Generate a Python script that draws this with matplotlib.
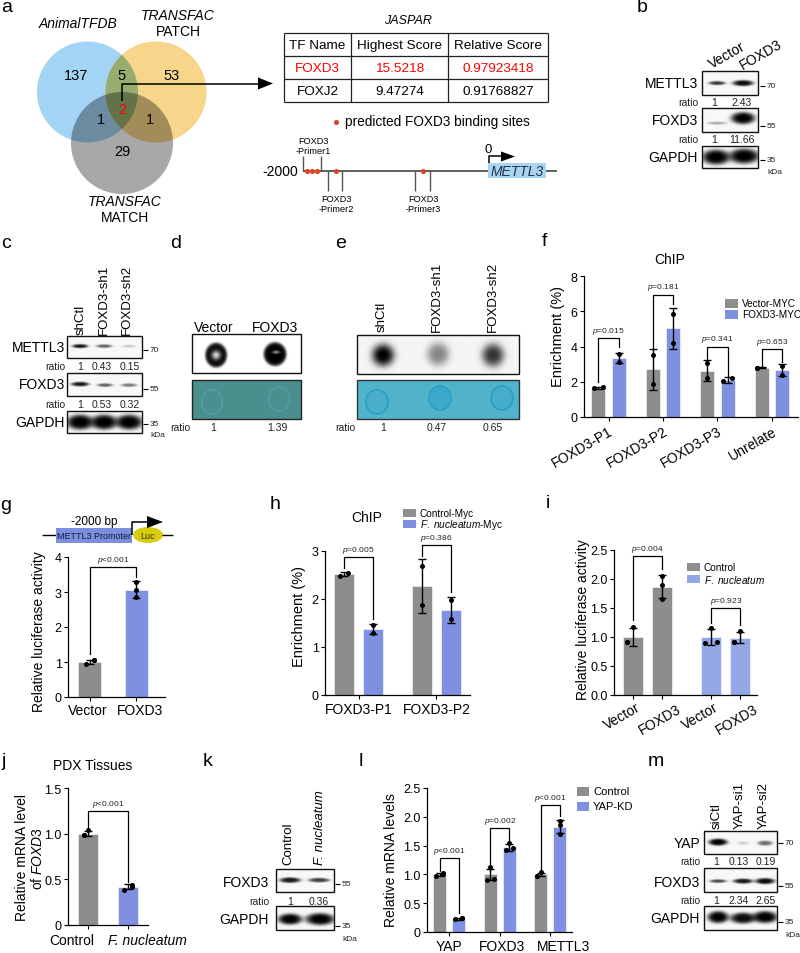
#!/usr/bin/env python

"""
FOXD3 / METTL3 multi panel figure (a-m)
"""

import numpy as np
from matplotlib import pyplot as plt
from matplotlib.patches import Circle, Ellipse, Polygon, Rectangle

plt.rcParams['font.family'] = 'Liberation Sans'
plt.rcParams['mathtext.fontset'] = 'custom'
plt.rcParams['mathtext.rm'] = 'Liberation Sans'
plt.rcParams['mathtext.it'] = 'Liberation Sans:italic'
plt.rcParams['mathtext.default'] = 'regular'

W, H = 800, 954
GREY = '#8d8d8b'
BLUE = '#7f90e0'
LIGHT = '#93a6e6'

# panel a
venn_counts = ['137', '5', '53', '2', '1', '1', '29']
table_rows = [['TF Name', 'Highest Score', 'Relative Score'],
              ['FOXD3', '15.5218', '0.97923418'],
              ['FOXJ2', '9.47274', '0.91768827']]

# panel f
f_names = ['FOXD3-P1', 'FOXD3-P2', 'FOXD3-P3', 'Unrelate']
f_ctrl = [1.65, 2.7, 2.62, 2.8]
f_ctrl_err = [0.05, 1.15, 0.6, 0.02]
f_ctrl_pts = [[1.62, 1.7], [1.9, 3.5], [2.2, 3.05], [2.8, 2.8]]
f_trt = [3.35, 5.03, 2.1, 2.65]
f_trt_err = [0.3, 1.15, 0.15, 0.35]
f_trt_pts = [[3.1, 3.6], [4.2, 5.85], [2.05, 2.2], [2.4, 2.9]]
f_p = ['0.015', '0.181', '0.341', '0.653']

# panel g
g_names = ['Vector', 'FOXD3']
g_vals = [1.0, 3.07]
g_err = [0.07, 0.24]
g_pts = [[0.93, 1.05, 1.05], [2.85, 3.05, 3.3]]

# panel h
h_names = ['FOXD3-P1', 'FOXD3-P2']
h_ctrl = [2.52, 2.27]
h_ctrl_err = [0.05, 0.57]
h_ctrl_pts = [[2.48, 2.55], [1.87, 2.68]]
h_trt = [1.38, 1.78]
h_trt_err = [0.1, 0.27]
h_trt_pts = [[1.3, 1.45], [1.58, 1.98]]
h_p = ['0.005', '0.386']

# panel i
i_names = ['Vector', 'FOXD3', 'Vector', 'FOXD3']
i_ctrl = [1.0, 1.0]
i_ctrl_err = [0.15, 0.14]
i_ctrl_pts = [[0.92, 0.92, 1.17], [0.9, 0.92, 1.15]]
i_trt = [1.87, 0.99]
i_trt_err = [0.2, 0.1]
i_trt_pts = [[1.65, 1.9, 2.05], [0.92, 0.92, 1.1]]
i_p = ['0.004', '0.923']

# panel j
j_vals = [1.0, 0.42]
j_err = [0.03, 0.03]
j_pts = [[0.98, 0.98, 1.04], [0.38, 0.42, 0.44]]

# panel l
l_names = ['YAP', 'FOXD3', 'METTL3']
l_ctrl = [1.0, 1.0, 1.0]
l_ctrl_err = [0.02, 0.1, 0.03]
l_ctrl_pts = [[0.98, 1.0, 1.02], [0.9, 0.92, 1.12], [0.98, 0.98, 1.05]]
l_trt = [0.23, 1.47, 1.83]
l_trt_err = [0.02, 0.06, 0.11]
l_trt_pts = [[0.22, 0.24, 0.24], [1.42, 1.45, 1.55], [1.7, 1.85, 1.93]]
l_p = ['<0.001', '=0.002', '<0.001']

fig = plt.figure(figsize=(W/100., H/100.), dpi=100)
bg = fig.add_axes([0, 0, 1, 1])
bg.set_xlim(0, W)
bg.set_ylim(H, 0)
bg.axis('off')


def T(x, y, s, size=10, ha='center', va='center', **kw):
    bg.text(x, y, s, fontsize=size, ha=ha, va=va, **kw)


def L(xs, ys, lw=1., color='k', **kw):
    bg.plot(xs, ys, color=color, lw=lw, solid_capstyle='butt', **kw)


def blot(x0, y0, x1, y1, bands, holes=(), floor=0.97, frame=1., sharp=2.):
    # bands are (x, y, width, height, darkness) in figure pixels
    X, Y = np.meshgrid(np.arange(x0, x1, 0.34), np.arange(y0, y1, 0.34))
    img = np.full(X.shape, floor)
    for bx, by, bw, bh, dark in bands:
        r = ((X-bx)/(bw/2.))**2 + ((Y-by)/(bh/2.))**2
        img *= 1 - dark*np.exp(-r**sharp)
    for bx, by, bw, bh, light in holes:
        r = ((X-bx)/(bw/2.))**2 + ((Y-by)/(bh/2.))**2
        img = img + light*np.exp(-r)
    bg.imshow(np.clip(img, 0, 1), cmap='gray', vmin=0, vmax=1, aspect='auto',
              extent=(x0, x1, y1, y0), interpolation='bilinear', zorder=1)
    bg.add_patch(Rectangle((x0, y0), x1-x0, y1-y0, fc='none', ec='#111111', lw=frame, zorder=2))


def marker(x, y, s):
    L([x, x+5], [y, y], lw=0.8)
    T(x+7, y, s, size=6, ha='left', color='#222222')


def panel_axes(x0, ytop, x1, ybot, xlim, ylim, ticks, labels):
    ax = fig.add_axes([x0/W, 1-ybot/H, (x1-x0)/W, (ybot-ytop)/H])
    ax.patch.set_alpha(0)
    ax.set_xlim(*xlim)
    ax.set_ylim(*ylim)
    ax.spines['top'].set_visible(False)
    ax.spines['right'].set_visible(False)
    ax.spines['left'].set_linewidth(0.9)
    ax.spines['bottom'].set_linewidth(0.9)
    ax.tick_params(axis='y', labelsize=9, length=3, width=0.8, pad=1.5)
    ax.tick_params(axis='x', labelsize=10, length=3, width=0.8, pad=2)
    ax.set_yticks(ticks)
    ax.set_yticklabels(labels)
    return ax


def swarm(x, pts, gap, step):
    out = []
    pts = sorted(pts)
    for k, p in enumerate(pts):
        close = [q for j, q in enumerate(pts) if j != k and abs(q-p) < gap]
        if close:
            side = -1 if p == min([p]+close) else 1
            out.append(x + side*step)
        else:
            out.append(x)
    return out, pts


def bars(ax, x, vals, errs, pts, color, width, gap, step):
    ax.bar(x, vals, width=width, color=color, edgecolor='white', linewidth=0.4, zorder=1)
    ax.errorbar(x, vals, yerr=errs, fmt='none', ecolor='k', elinewidth=1.,
                capsize=3., capthick=1., zorder=3, clip_on=False)
    for xi, p in zip(x, pts):
        xs, ys = swarm(xi, p, gap, step)
        ax.scatter(xs, ys, s=13, color='k', zorder=4, clip_on=False, linewidths=0)


def bracket(ax, x1, x2, y1, y2, top, text):
    ax.plot([x1, x1, x2, x2], [y1, top, top, y2], color='k', lw=0.9, clip_on=False, zorder=5)
    ax.annotate(text, ((x1+x2)/2., top), xytext=(0, 1.5), textcoords='offset points',
                ha='center', va='bottom', fontsize=6, color='#222222', annotation_clip=False)


def legend_box(x, y, color, text, size=7.2, w=13, h=8.5, **kw):
    bg.add_patch(Rectangle((x, y), w, h, fc=color, ec='none', zorder=3))
    T(x+w+4, y+h/2., text, size=size, ha='left', **kw)


# panel letters
for s, x, y in [('a', 7, 8), ('b', 642, 7), ('c', 6, 243), ('d', 176, 243), ('e', 341, 243),
                ('f', 544, 241), ('g', 6, 505), ('h', 275, 505), ('i', 548, 504),
                ('j', 4, 762), ('k', 208, 762), ('l', 361, 762), ('m', 656, 762)]:
    T(x, y, s, size=14)

# a: venn
A = Circle((87.5, 93), 50.5, fc='#a3d3f5', ec='none', zorder=1)
B = Circle((156, 93), 50.5, fc='#f7d58a', ec='none', zorder=1.1)
AB = Circle((87.5, 93), 50.5, fc='#97ad70', ec='none', zorder=1.2)
C = Circle((122, 144), 51, fc='k', alpha=0.34, ec='none', zorder=1.3)
for c in (A, B, AB, C):
    bg.add_patch(c)
AB.set_clip_path(B)
venn_xy = [(76, 76), (122, 76), (172, 76), (122, 110), (101, 120), (150, 120), (122, 152)]
for (x, y), s in zip(venn_xy, venn_counts):
    T(x, y, s, size=10.5, color='red' if s == '2' else 'k', zorder=6)
T(78, 24, 'AnimalTFDB', size=10, style='italic')
T(178, 16, 'TRANSFAC', size=10, style='italic')
T(178, 32, 'PATCH', size=10)
T(125, 202, 'TRANSFAC', size=10, style='italic')
T(125, 218, 'MATCH', size=10)
L([122, 122, 260], [102, 84.5, 84.5], lw=1.1, zorder=5)
bg.add_patch(Polygon([(258, 78.5), (273, 84.5), (258, 90.5)], fc='k', ec='none', zorder=5))

# a: table
col_x = [284, 351, 448, 548]
row_y = [34, 57, 80, 103]
T(408, 21, 'JASPAR', size=9, style='italic')
for x in col_x:
    L([x, x], [row_y[0], row_y[-1]], lw=0.9, color='#222222')
for y in row_y:
    L([col_x[0], col_x[-1]], [y, y], lw=0.9, color='#222222')
for r, row in enumerate(table_rows):
    for c, s in enumerate(row):
        T((col_x[c]+col_x[c+1])/2., (row_y[r]+row_y[r+1])/2.+0.5, s, size=9.7,
          color='red' if r == 1 else 'k')

# a: promoter map
RED = '#d9472b'
bg.scatter([336], [123], s=14, color=RED, linewidths=0, zorder=4)
T(345, 122, 'predicted FOXD3 binding sites', size=9.8, ha='left')
T(262, 172, '-2000', size=10, ha='left')
L([303, 557], [172, 172], lw=1.1, color='#333333')
bg.scatter([307, 312, 317, 336, 423], [172]*5, s=14, color=RED, linewidths=0, zorder=4)
for x in (303, 321):
    L([x, x], [157, 172], color='#555555')
for x in (328, 342, 415, 430):
    L([x, x], [172, 192], color='#555555')
for x, y, n in [(313, 141, 1), (336, 199, 2), (423, 199, 3)]:
    T(x, y, 'FOXD3', size=6.6)
    T(x, y+11, '-Primer%d' % n, size=6.6)
bg.add_patch(Rectangle((488, 164), 58, 15, fc='#a9d5f5', ec='none', zorder=2))
T(517, 172, 'METTL3', size=10, style='italic', color='#223344', zorder=3)
T(488, 150, '0', size=9.5)
L([489, 489, 503], [164, 157, 157], lw=1.1)
bg.add_patch(Polygon([(501, 152.5), (515, 157.5), (501, 162.5)], fc='k', ec='none'))

# b: western
blot(702, 72, 758, 96, [(717, 84, 17, 4, .75), (743, 84, 21, 6, .95)])
blot(702, 109, 758, 133, [(717, 124, 20, 3, .3), (743, 119, 24, 12, 1.)])
blot(702, 147, 758, 169, [(716, 158, 28, 15, 1.), (744, 157, 30, 15, 1.)])
for s, y in [('METTL3', 84), ('FOXD3', 121), ('GAPDH', 158)]:
    T(698, y, s, size=10, ha='right')
T(698, 103, 'ratio', size=7.5, ha='right', color='#222222')
T(698, 140, 'ratio', size=7.5, ha='right', color='#222222')
for x, s in [(714, '1'), (742, '2.43')]:
    T(x, 103, s, size=7.5, color='#222222')
for x, s in [(714, '1'), (742, '11.66')]:
    T(x, 140, s, size=7.5, color='#222222')
T(713, 72, 'Vector', size=10, ha='left', va='bottom', rotation=30, rotation_mode='anchor')
T(744, 73, 'FOXD3', size=10, ha='left', va='bottom', rotation=30, rotation_mode='anchor')
marker(760, 87, '70')
marker(760, 127, '55')
marker(760, 161, '35')
T(767, 173, 'kDa', size=6, ha='left', color='#222222')

# c: western
blot(67, 337, 142, 359, [(80, 347, 16, 4, .9), (104, 347, 16, 3.5, .6), (129, 347, 14, 2.5, .2)])
blot(67, 374, 142, 397, [(80, 385, 18, 4.5, .9), (105, 386, 16, 3.5, .6), (129, 386, 16, 3.5, .5)])
blot(67, 412, 142, 434, [(80, 423, 27, 15, 1.), (104, 423, 27, 15, 1.), (129, 423, 27, 15, 1.)])
for s, y in [('METTL3', 348), ('FOXD3', 385), ('GAPDH', 423)]:
    T(65, y, s, size=10, ha='right')
for y, vals in [(367, ['1', '0.43', '0.15']), (405, ['1', '0.53', '0.32'])]:
    T(65, y, 'ratio', size=7.5, ha='right', color='#222222')
    for x, s in zip((80, 102, 130), vals):
        T(x, y, s, size=7.5, color='#222222')
for x, s in [(81, 'shCtl'), (104, 'FOXD3-sh1'), (127, 'FOXD3-sh2')]:
    T(x, 335, s, size=9.5, va='bottom', rotation=90)
marker(143, 351, '70')
marker(143, 390, '55')
marker(143, 425, '35')
T(150, 436, 'kDa', size=6, ha='left', color='#222222')

# d: dot blot
blot(192, 335, 301, 374, [(216, 356, 22, 25, 1.), (275, 355, 23, 24, 1.)],
     holes=[(216, 356, 9, 9, .85), (276, 353, 7, 3, .6)], floor=1., sharp=5.)
bg.add_patch(Rectangle((192, 381), 109, 39, fc='#4a8f8e', ec='#222222', lw=1., zorder=1))
for x, y in [(212, 403), (279, 400)]:
    bg.add_patch(Ellipse((x, y), 21, 24, fc='none', ec='#4f9ca3', lw=1.2, zorder=2))
T(214, 328, 'Vector', size=10)
T(275, 328, 'FOXD3', size=10)
T(180, 428, 'ratio', size=7.5, color='#222222')
T(213, 428, '1', size=7.5, color='#222222')
T(277, 428, '1.39', size=7.5, color='#222222')

# e: dot blot
blot(357, 336, 519, 375, [(383, 356, 22, 22, 1.), (438, 355, 22, 23, .45), (493, 356, 22, 23, .78)],
     floor=.96, sharp=1.5)
bg.add_patch(Rectangle((357, 381), 162, 39, fc='#50b3ca', ec='#333333', lw=1., zorder=1))
for x, y, fc in [(377, 403, '#4aaeca'), (440, 399, '#3aa9cb'), (502, 399, '#47adca')]:
    bg.add_patch(Ellipse((x, y), 22, 24, fc=fc, ec='#2a9fc2', lw=1.2, zorder=2))
for x, s in [(382, 'shCtl'), (437, 'FOXD3-sh1'), (493, 'FOXD3-sh2')]:
    T(x, 332, s, size=9.5, va='bottom', rotation=90)
T(345, 428, 'ratio', size=7.5, color='#222222')
for x, s in [(383, '1'), (437, '0.47'), (493, '0.65')]:
    T(x, 428, s, size=7.5, color='#222222')

# f: ChIP bars
ax = panel_axes(584, 277, 798, 418, (-0.45, 3.48), (0, 8), [0, 2, 4, 6, 8], ['0', '2', '4', '6', '8'])
pos = np.arange(4)
bars(ax, pos-0.188, f_ctrl, f_ctrl_err, f_ctrl_pts, GREY, 0.257, 0.3, 0.08)
bars(ax, pos+0.188, f_trt, f_trt_err, f_trt_pts, BLUE, 0.257, 0.3, 0.08)
ax.set_xticks(pos)
ax.set_xticklabels(f_names, rotation=30, ha='right', rotation_mode='anchor')
for i, (y1, y2, top) in enumerate([(2.0, 4.0, 4.46), (3.9, 6.4, 6.95), (3.3, 2.3, 4.0), (2.9, 3.1, 3.84)]):
    bracket(ax, i-0.188, i+0.188, y1, y2, top, '$\\mathit{p}$=' + f_p[i])
T(558, 337, 'Enrichment (%)', size=10.5, rotation=90)
T(670, 260, 'ChIP', size=10)
legend_box(725, 300, GREY, 'Vector-MYC')
legend_box(725, 311, BLUE, 'FOXD3-MYC')

# g: luciferase
L([42, 56], [536, 536], lw=1.)
bg.add_patch(Rectangle((56, 529), 76, 15, fc='#7b8fdc', ec='none', zorder=2))
T(94, 536.5, 'METTL3 Promoter', size=6.5, color='#141d40', zorder=3)
bg.add_patch(Ellipse((148, 536), 30, 16, fc='#d8cc10', ec='none', zorder=2))
T(148, 536.5, 'Luc', size=6.5, color='#3a3a10', zorder=3)
L([162, 173], [536, 536], lw=1.)
L([132, 132, 148], [536, 523, 523], lw=1.1)
bg.add_patch(Polygon([(147, 517), (163, 523), (147, 529)], fc='k', ec='none', zorder=3))
T(94, 522, '-2000 bp', size=8.5)
ax = panel_axes(68, 558, 165, 698, (-0.478, 1.63), (0, 4), [0, 1, 2, 3, 4], ['0', '1', '2', '3', '4'])
bars(ax, [0, 1], g_vals, g_err, g_pts, [GREY, BLUE], 0.5, 0.15, 0.09)
ax.set_xticks([0, 1])
ax.set_xticklabels([])
T(88, 711, g_names[0])
T(140, 711, g_names[1])
bracket(ax, 0, 1, 1.22, 3.42, 3.71, '$\\mathit{p}$<0.001')
T(39, 632, 'Relative luciferase activity', size=10, rotation=90)

# h: ChIP bars
ax = panel_axes(325, 552, 470, 696, (-0.43, 1.43), (0, 3), [0, 1, 2, 3], ['0', '1', '2', '3'])
pos = np.arange(2)
bars(ax, pos-0.186, h_ctrl, h_ctrl_err, h_ctrl_pts, GREY, 0.256, 0.2, 0.05)
bars(ax, pos+0.186, h_trt, h_trt_err, h_trt_pts, BLUE, 0.256, 0.1, 0.05)
ax.set_xticks(pos)
ax.set_xticklabels(h_names)
bracket(ax, -0.186, 0.186, 2.65, 1.58, 2.87, '$\\mathit{p}$=' + h_p[0])
bracket(ax, 0.814, 1.186, 2.9, 2.15, 3.12, '$\\mathit{p}$=' + h_p[1])
T(299, 617, 'Enrichment (%)', size=10.5, rotation=90)
T(367, 518, 'ChIP', size=10)
legend_box(403, 510, GREY, 'Control-Myc', h=7.5)
legend_box(403, 521, BLUE, '$\\mathit{F.\\ nucleatum}$-Myc', h=7.5)

# i: luciferase
ax = panel_axes(614, 551, 757, 696, (-0.43, 1.40), (0, 2.5), [0, 0.5, 1, 1.5, 2, 2.5],
                ['0.0', '0.5', '1.0', '1.5', '2.0', '2.5'])
pos = np.arange(2)
bars(ax, pos-0.186, i_ctrl, i_ctrl_err, i_ctrl_pts, [GREY, LIGHT], 0.256, 0.08, 0.08)
bars(ax, pos+0.186, i_trt, i_trt_err, i_trt_pts, [GREY, LIGHT], 0.256, 0.08, 0.08)
ax.set_xticks([-0.186, 0.186, 0.814, 1.186])
ax.set_xticklabels([])
for x, y, s in zip((636, 676, 714, 753), (701, 702, 701, 702), i_names):
    T(x, y, s, ha='right', va='top', rotation=30, rotation_mode='anchor')
bracket(ax, -0.186, 0.186, 1.3, 2.17, 2.4, '$\\mathit{p}$=' + i_p[0])
bracket(ax, 0.814, 1.186, 1.25, 1.2, 1.5, '$\\mathit{p}$=' + i_p[1])
T(583, 620, 'Relative luciferase activity', size=10, rotation=90)
legend_box(687, 564, GREY, 'Control', h=7.5)
legend_box(687, 576, LIGHT, '$\\mathit{F.\\ nucleatum}$', h=7.5)

# j: PDX
ax = panel_axes(68, 789, 148, 926, (-0.5, 1.5), (0, 1.5), [0, 0.5, 1, 1.5], ['0', '0.5', '1.0', '1.5'])
bars(ax, [0, 1], j_vals, j_err, j_pts, [GREY, BLUE], 0.5, 0.05, 0.1)
ax.set_xticks([0, 1])
ax.set_xticklabels([])
T(72, 941, 'Control')
T(147, 941, 'F. nucleatum', style='italic')
bracket(ax, 0, 1, 1.05, 0.47, 1.25, '$\\mathit{p}$<0.001')
T(30, 858, 'Relative mRNA level\nof $\\mathit{FOXD3}$', size=10, rotation=90, linespacing=1.05)
T(93, 766, 'PDX Tissues', size=10)

# k: western
blot(276, 870, 334, 893, [(290, 881, 21, 5.5, .9), (319, 881, 21, 4.5, .75)])
blot(276, 907, 334, 931, [(290, 920, 24, 11, 1.), (320, 920, 29, 12, 1.)])
T(269, 883, 'FOXD3', size=10, ha='right')
T(269, 920, 'GAPDH', size=10, ha='right')
T(269, 902, 'ratio', size=7.5, ha='right', color='#222222')
T(290, 902, '1', size=7.5, color='#222222')
T(319, 902, '0.36', size=7.5, color='#222222')
T(288, 865, 'Control', size=9.5, va='bottom', rotation=90)
T(320, 865, 'F. nucleatum', size=9.5, va='bottom', rotation=90, style='italic')
marker(335, 885, '55')
marker(335, 927, '35')
T(342, 940, 'kDa', size=6, ha='left', color='#222222')

# l: YAP-KD
ax = panel_axes(427, 789, 572, 933, (-0.445, 2.43), (0, 2.5), [0, 0.5, 1, 1.5, 2, 2.5],
                ['0', '0.5', '1.0', '1.5', '2.0', '2.5'])
pos = np.arange(3)
bars(ax, pos-0.188, l_ctrl, l_ctrl_err, l_ctrl_pts, GREY, 0.257, 0.05, 0.07)
bars(ax, pos+0.188, l_trt, l_trt_err, l_trt_pts, BLUE, 0.257, 0.05, 0.07)
ax.set_xticks(pos)
ax.set_xticklabels([])
for x, s in zip((449, 502, 564), l_names):
    T(x, 947, s)
for i, (y1, y2, top) in enumerate([(1.06, 0.33, 1.29), (1.06, 1.58, 1.8), (1.1, 2.02, 2.2)]):
    bracket(ax, i-0.188, i+0.188, y1, y2, top, '$\\mathit{p}$' + l_p[i])
T(391, 860, 'Relative mRNA levels', size=10, rotation=90)
legend_box(577, 788, GREY, 'Control', size=8, w=12)
legend_box(577, 803, BLUE, 'YAP-KD', size=8, w=12)

# m: western
blot(704, 832, 777, 855, [(718, 843, 19, 7, 1.), (743, 844, 12, 3.5, .15), (765, 844, 15, 5, .55)])
blot(704, 869, 777, 893, [(718, 882, 17, 3.5, .7), (743, 882, 20, 5, .9), (765, 882, 20, 6, .95)])
blot(704, 907, 777, 931, [(718, 918, 21, 12, 1.), (743, 919, 26, 11, .95), (765, 918, 25, 12, 1.)])
for s, y in [('YAP', 844), ('FOXD3', 883), ('GAPDH', 919)]:
    T(700, y, s, size=10, ha='right')
for y, vals in [(862, ['1', '0.13', '0.19']), (901, ['1', '2.34', '2.65'])]:
    T(700, y, 'ratio', size=7.5, ha='right', color='#222222')
    for x, s in zip((716, 739, 766), vals):
        T(x, y, s, size=7.5, color='#222222')
for x, s in [(717, 'siCtl'), (740, 'YAP-si1'), (764, 'YAP-si2')]:
    T(x, 829, s, size=9.5, va='bottom', rotation=90)
marker(778, 844, '70')
marker(778, 887, '55')
marker(778, 923, '35')
T(785, 936, 'kDa', size=6, ha='left', color='#222222')

bg.set_xlim(0, W)
bg.set_ylim(H, 0)
fig.savefig('out.png', dpi=100)
